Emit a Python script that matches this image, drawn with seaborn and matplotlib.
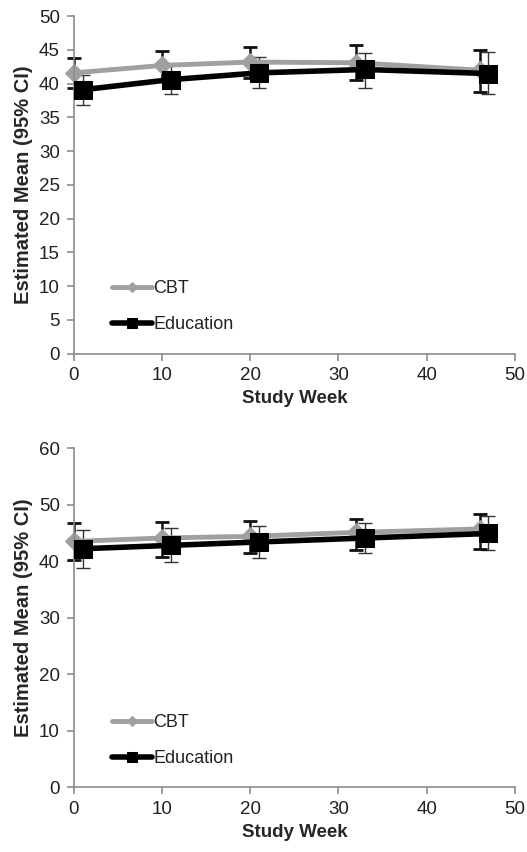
import matplotlib
matplotlib.use("Agg")
import matplotlib.pyplot as plt
import pandas as pd
import seaborn as sns

# study weeks (Education points are plotted one week later than CBT)
cbt_weeks = [0, 10, 20, 32, 46]
edu_weeks = [1, 11, 21, 33, 47]

# top panel
top_cbt = [41.6, 42.7, 43.2, 43.1, 42.0]
top_cbt_lo = [39.4, 40.6, 40.8, 40.5, 38.8]
top_cbt_hi = [43.8, 44.8, 45.5, 45.7, 45.0]
top_edu = [39.1, 40.6, 41.6, 42.1, 41.5]
top_edu_lo = [36.9, 38.5, 39.3, 39.4, 38.4]
top_edu_hi = [41.3, 42.7, 44.0, 44.6, 44.7]

# bottom panel
bot_cbt = [43.5, 44.1, 44.4, 45.1, 45.7]
bot_cbt_lo = [40.2, 40.8, 41.4, 41.9, 42.2]
bot_cbt_hi = [46.8, 46.9, 47.1, 47.5, 48.3]
bot_edu = [42.2, 42.8, 43.4, 44.1, 44.9]
bot_edu_lo = [38.8, 39.8, 40.6, 41.4, 41.9]
bot_edu_hi = [45.6, 45.8, 46.2, 46.8, 48.0]

sns.set_style("white")
plt.rcParams["font.family"] = ["Liberation Sans", "DejaVu Sans"]

AXGRAY = "#8c8c8c"
CBTGRAY = "#a0a0a0"


def panel(ax, cbt, cbt_lo, cbt_hi, edu, edu_lo, edu_hi, ymax, ystep):
    df = pd.DataFrame({
        "week": cbt_weeks + edu_weeks,
        "mean": cbt + edu,
        "group": ["CBT"] * 5 + ["Education"] * 5,
    })
    # CIs first, behind the lines
    ax.errorbar(edu_weeks, edu,
                yerr=[[m - l for m, l in zip(edu, edu_lo)], [h - m for m, h in zip(edu, edu_hi)]],
                fmt="none", ecolor="#333333", elinewidth=1.0, capsize=5, capthick=1.0, zorder=1)
    ax.errorbar(cbt_weeks, cbt,
                yerr=[[m - l for m, l in zip(cbt, cbt_lo)], [h - m for m, h in zip(cbt, cbt_hi)]],
                fmt="none", ecolor="#111111", elinewidth=1.8, capsize=5, capthick=2.0, zorder=1)
    sns.lineplot(data=df[df.group == "CBT"], x="week", y="mean", ax=ax, color=CBTGRAY,
                 lw=3.5, marker="D", markersize=9, markerfacecolor=CBTGRAY,
                 markeredgecolor=CBTGRAY, label="CBT", zorder=2)
    sns.lineplot(data=df[df.group == "Education"], x="week", y="mean", ax=ax, color="black",
                 lw=4, marker="s", markersize=13, markerfacecolor="black",
                 markeredgecolor="black", label="Education", zorder=3)

    ax.set_xlim(0, 50)
    ax.set_ylim(0, ymax)
    ax.set_xticks(range(0, 51, 10))
    ax.set_yticks(range(0, ymax + 1, ystep))
    ax.set_xlabel("Study Week", fontsize=13.5, fontweight="bold", labelpad=4)
    ax.set_ylabel("Estimated Mean (95% CI)", fontsize=14.5, fontweight="bold", labelpad=4)
    sns.despine(ax=ax)
    for s in ["left", "bottom"]:
        ax.spines[s].set_color(AXGRAY)
        ax.spines[s].set_linewidth(1.2)
    ax.tick_params(axis="both", direction="out", length=5, width=1.2, color=AXGRAY,
                   labelsize=13.5, labelcolor="#222222", pad=5)
    ax.tick_params(axis="both", which="both", bottom=True, left=True)

    h, l = ax.get_legend_handles_labels()
    leg = ax.legend(h, l, loc="lower left", bbox_to_anchor=(0.05, 0.012), frameon=False,
                    fontsize=13, handlelength=2.2, handletextpad=0.1, labelspacing=1.05,
                    markerscale=0.6)
    for t in leg.get_texts():
        t.set_color("#222222")


fig = plt.figure(figsize=(5.27, 8.52), dpi=100)
ax1 = fig.add_axes([0.140, 0.585, 0.837, 0.396])
ax2 = fig.add_axes([0.140, 0.076, 0.837, 0.398])

panel(ax1, top_cbt, top_cbt_lo, top_cbt_hi, top_edu, top_edu_lo, top_edu_hi, 50, 5)
panel(ax2, bot_cbt, bot_cbt_lo, bot_cbt_hi, bot_edu, bot_edu_lo, bot_edu_hi, 60, 10)

for ax in (ax1, ax2):
    for line in ax.lines:
        line.set_clip_on(False)

fig.savefig("out.png", dpi=100)
